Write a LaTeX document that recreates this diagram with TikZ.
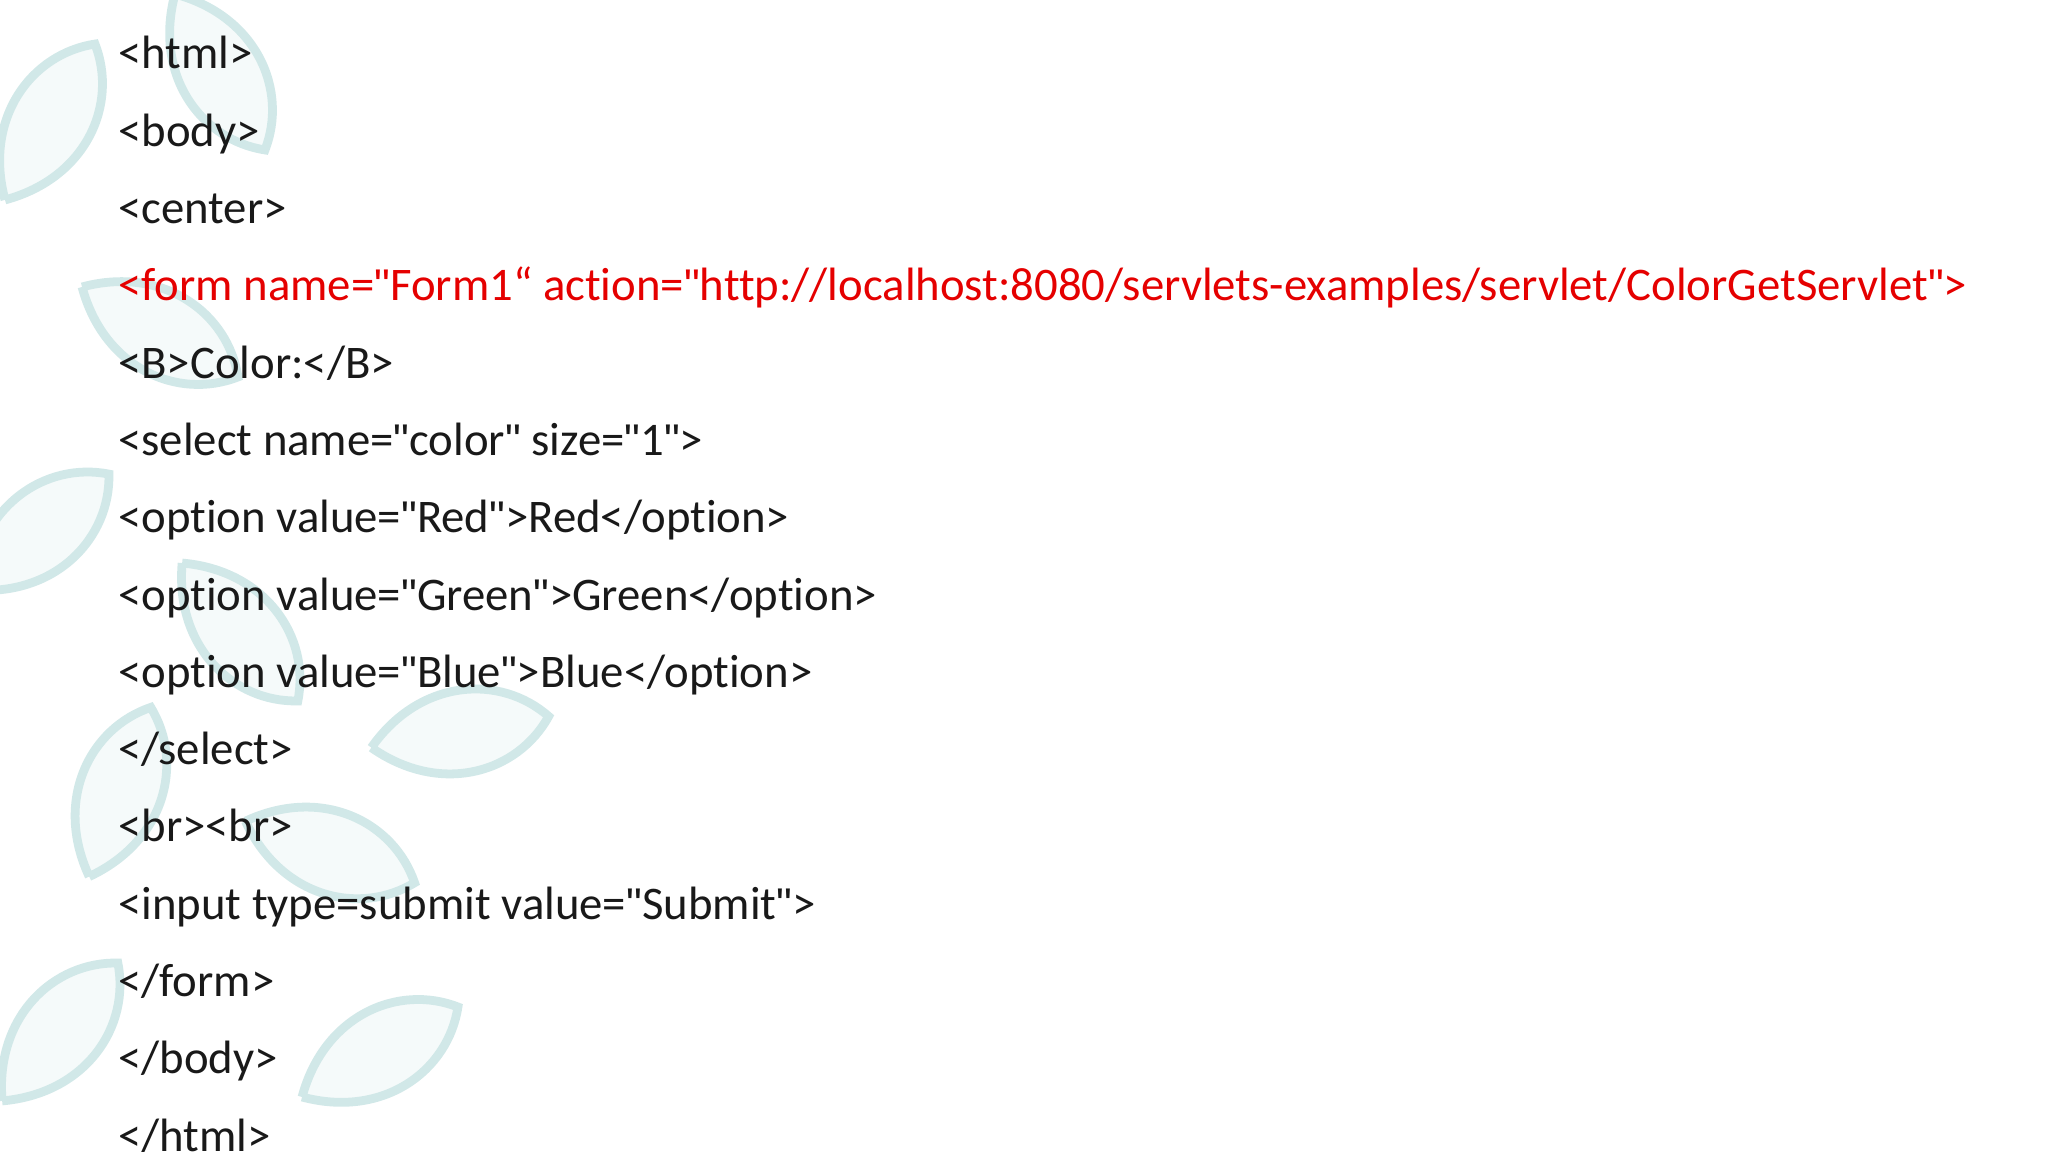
\documentclass[tikz,border=0pt]{standalone}
\usepackage{fontspec}
\setmainfont{Carlito}[Ligatures=ResetAll,RawFeature={-liga;-clig;-calt;-dlig}]
\newfontfamily\qfont{Liberation Sans}[Scale=0.95]
\newcommand\qq{{\qfont\symbol{34}}}
\begin{document}
\begin{tikzpicture}[x=1cm,y=1cm,
  code/.style={anchor=base west,inner sep=0pt,font=\fontsize{13.3}{15}\selectfont,text=black!90},
  hl/.style={code,text=red!90!black},
  leaf/.style={draw=teal!18,line width=2.5pt,fill=teal!4}]
\fill[white] (0,0) rectangle (20.48,11.52);
\useasboundingbox (0,0) rectangle (20.48,11.52);
% decorative leaves
\foreach \x/\y/\a in {0.5/10.3/60,1.6/8.2/-30,0.4/6.2/40,2.4/5.2/-50,1.2/3.6/70,3.3/3.0/-20,0.6/1.2/50,3.8/1.0/30,2.2/10.8/-60,4.6/4.2/10}{
  \draw[leaf,rotate around={\a:(\x,\y)}] (\x-0.9,\y) .. controls (\x-0.3,\y+0.6) and (\x+0.5,\y+0.5) .. (\x+0.9,\y) .. controls (\x+0.5,\y-0.5) and (\x-0.3,\y-0.6) .. (\x-0.9,\y);
}
\foreach \t [count=\i from 0] in {
 {<html>},{<body>},{<center>},{},{<B>Color:</B>},
 {<select name=\qq color\qq{} size=\qq 1\qq>},{<option value=\qq Red\qq>Red</option>},
 {<option value=\qq Green\qq>Green</option>},{<option value=\qq Blue\qq>Blue</option>},
 {</select>},{<br><br>},{<input type=submit value=\qq Submit\qq>},
 {</form>},{</body>},{</html>}}{
  \node[code] (l\i) at (1.175,10.83-0.773*\i) {\t};
}
\node[hl] (form) at (1.175,10.83-0.773*3) {<form name=\qq Form1“ action=\qq http://localhost:8080/servlets-examples/servlet/ColorGetServlet\qq>};
\end{tikzpicture}
\end{document}
